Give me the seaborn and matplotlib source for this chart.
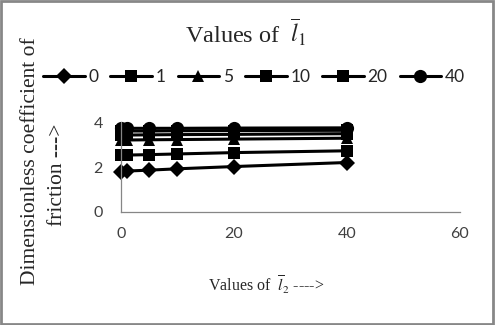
import numpy as np
import pandas as pd
import matplotlib
matplotlib.use("Agg")
import matplotlib.pyplot as plt
from matplotlib.patches import Rectangle
import seaborn as sns

# data
l2_values = [0, 1, 5, 10, 20, 40]
l1_labels = ["0", "1", "5", "10", "20", "40"]
friction_l1_0 = [1.80, 1.82, 1.86, 1.92, 2.02, 2.20]
friction_l1_1 = [2.52, 2.53, 2.55, 2.58, 2.64, 2.72]
friction_l1_5 = [3.20, 3.20, 3.21, 3.22, 3.24, 3.28]
friction_l1_10 = [3.42, 3.42, 3.43, 3.44, 3.45, 3.48]
friction_l1_20 = [3.60, 3.60, 3.60, 3.61, 3.62, 3.63]
friction_l1_40 = [3.72, 3.72, 3.72, 3.72, 3.73, 3.74]
x_ticks = [0, 20, 40, 60]
y_ticks = [0, 2, 4]

series = [friction_l1_0, friction_l1_1, friction_l1_5,
          friction_l1_10, friction_l1_20, friction_l1_40]
markers = ["D", "s", "^", "s", "s", "o"]
msizes = [8, 9, 9, 9, 9, 9.5]

sns.set_theme(style="white")
plt.rcParams["font.family"] = ["Lato", "DejaVu Sans"]
plt.rcParams["mathtext.fontset"] = "stix"

fig = plt.figure(figsize=(4.95, 3.25), dpi=100)
ax = fig.add_axes([0.2444, 0.3477, 0.6848, 0.2769])

for lab, vals, m, ms in zip(l1_labels, series, markers, msizes):
    df = pd.DataFrame({"l2": l2_values, "f": vals})
    sns.lineplot(data=df, x="l2", y="f", ax=ax, color="black", marker=m,
                 markersize=ms, linewidth=2.2, markeredgewidth=0,
                 label=lab, clip_on=False)

ax.set_xlim(0, 60)
ax.set_ylim(0, 4)
ax.set_xticks(x_ticks)
ax.set_yticks(y_ticks)
ax.tick_params(axis="both", length=0, labelsize=11.5, colors="#404040")
ax.tick_params(axis="y", pad=13)
ax.tick_params(axis="x", pad=11)
for s in ["top", "right"]:
    ax.spines[s].set_visible(False)
for s in ["left", "bottom"]:
    ax.spines[s].set_color("#868686")
    ax.spines[s].set_linewidth(0.9)
ax.set_xlabel("")
ax.set_ylabel("")

ax.legend(loc="center", bbox_to_anchor=(254 / 495, 0.763),
          bbox_transform=fig.transFigure, ncol=6, frameon=False,
          fontsize=12.5, handlelength=2.4, handletextpad=0.2,
          columnspacing=0.7)

fig.text(246 / 495, 1 - 32 / 325, r"Values of  $\overline{l}_1$",
         ha="center", va="center", fontsize=17.5, family="Liberation Serif")
fig.text(266 / 495, 1 - 285 / 325, r"Values of  $\overline{l}_2$ ---->",
         ha="center", va="center", fontsize=11.5, family="Liberation Serif")
fig.text(31 / 495, 1 - 161 / 325, "Dimensionless coefficient of",
         ha="center", va="center", rotation=90, fontsize=15.5,
         family="Liberation Serif")
fig.text(57 / 495, 1 - 175 / 325, "friction --->",
         ha="center", va="center", rotation=90, fontsize=15.5,
         family="Liberation Serif")

fig.patches.append(Rectangle((0.003, 0.004), 0.992, 0.992, transform=fig.transFigure,
                             fill=False, edgecolor="#878787", linewidth=2))

fig.savefig("out.png", dpi=100)
